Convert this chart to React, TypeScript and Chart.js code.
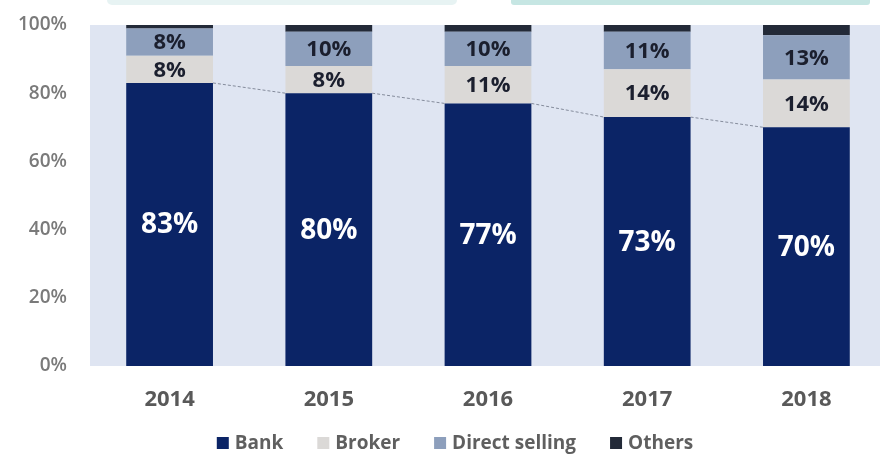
import React, { useEffect, useRef } from "react";
import { Chart, registerables } from "chart.js";

Chart.register(...registerables);

const years = ["2014", "2015", "2016", "2017", "2018"];
const bank = [83, 80, 77, 73, 70];
const broker = [8, 8, 11, 14, 14];
const directSelling = [8, 10, 10, 11, 13];
const others = [1, 2, 2, 2, 3];
const seriesNames = ["Bank", "Broker", "Direct selling", "Others"];
const seriesColors = ["#0b2466", "#dbd9d7", "#8d9fbc", "#232a38"];
const FONT = "'Open Sans', 'DejaVu Sans', sans-serif";

const decorPlugin = {
  id: "decor",
  beforeDraw(chart: any) {
    const { ctx, chartArea } = chart;
    ctx.save();
    ctx.fillStyle = "#ffffff";
    ctx.fillRect(0, 0, chart.width, chart.height);
    // cropped slide shapes at the very top
    ctx.fillStyle = "#e7f3f3";
    ctx.beginPath();
    (ctx as any).roundRect(107, -10, 350, 15, 5);
    ctx.fill();
    ctx.fillStyle = "#c6e6e3";
    ctx.beginPath();
    (ctx as any).roundRect(511, -10, 359, 15, 3);
    ctx.fill();
    // plot background
    ctx.fillStyle = "#dfe5f2";
    ctx.fillRect(chartArea.left, chartArea.top, chartArea.right - chartArea.left, chartArea.bottom - chartArea.top);
    ctx.restore();
  },
  beforeDatasetsDraw(chart: any) {
    const { ctx } = chart;
    const meta = chart.getDatasetMeta(0);
    ctx.save();
    ctx.strokeStyle = "#858c9c";
    ctx.lineWidth = 1;
    ctx.setLineDash([3, 2]);
    for (let i = 0; i < meta.data.length - 1; i++) {
      const a = meta.data[i];
      const b = meta.data[i + 1];
      ctx.beginPath();
      ctx.moveTo(a.x + a.width / 2, a.y);
      ctx.lineTo(b.x - b.width / 2, b.y);
      ctx.stroke();
    }
    ctx.restore();
  },
  afterDatasetsDraw(chart: any) {
    const { ctx } = chart;
    ctx.save();
    ctx.textAlign = "center";
    ctx.textBaseline = "middle";
    for (let d = 0; d < 3; d++) {
      const meta = chart.getDatasetMeta(d);
      const values = chart.data.datasets[d].data;
      meta.data.forEach((el: any, i: number) => {
        const cy = (el.y + el.base) / 2;
        if (d === 0) {
          ctx.fillStyle = "#ffffff";
          ctx.font = `bold 28px ${FONT}`;
        } else {
          ctx.fillStyle = "#1b1f2e";
          ctx.font = `bold 22px ${FONT}`;
        }
        ctx.fillText(values[i] + "%", el.x, cy + 1);
      });
    }
    ctx.restore();
  },
  afterDraw(chart: any) {
    const { ctx } = chart;
    ctx.save();
    ctx.font = `bold 19px ${FONT}`;
    ctx.textBaseline = "middle";
    const box = 12;
    const gapText = 6;
    const gapItem = 34;
    const widths = seriesNames.map((n) => box + gapText + ctx.measureText(n).width);
    const total = widths.reduce((s, w) => s + w, 0) + gapItem * (seriesNames.length - 1);
    let x = 455 - total / 2;
    const y = 443;
    seriesNames.forEach((n, i) => {
      ctx.fillStyle = seriesColors[i];
      ctx.fillRect(x, y - box / 2, box, box);
      ctx.fillStyle = "#5f5f5f";
      ctx.fillText(n, x + box + gapText, y + 1);
      x += widths[i] + gapItem;
    });
    ctx.restore();
  },
};

export default function App() {
  const ref = useRef<HTMLCanvasElement>(null);
  useEffect(() => {
    const seriesData = [bank, broker, directSelling, others];
    const chart = new Chart(ref.current!, {
      type: "bar",
      data: {
        labels: years,
        datasets: seriesNames.map((name, i) => ({
          label: name,
          data: seriesData[i],
          backgroundColor: seriesColors[i],
          borderWidth: 0,
          barPercentage: 0.545,
          categoryPercentage: 1,
        })),
      },
      options: {
        responsive: false,
        animation: false,
        layout: { padding: { top: 25, right: 0, bottom: 40, left: 0 } },
        plugins: { legend: { display: false }, tooltip: { enabled: false } },
        scales: {
          x: {
            stacked: true,
            grid: { display: false, drawTicks: false },
            border: { display: false },
            ticks: { color: "#595959", font: { family: FONT, size: 22, weight: "bold" }, padding: 21 },
            afterFit: (s: any) => { s.height = 50; s.paddingLeft = 0; s.paddingRight = 0; },
          },
          y: {
            stacked: true,
            min: 0,
            max: 100,
            grid: { display: false, drawTicks: false },
            border: { display: false },
            ticks: {
              stepSize: 20,
              color: "#7a7a7a",
              font: { family: FONT, size: 19, weight: "600" },
              padding: 23,
              callback: (v: any) => v + "%",
            },
            afterFit: (s: any) => { s.width = 90; s.paddingTop = 0; s.paddingBottom = 0; },
          },
        },
      },
      plugins: [decorPlugin],
    });
    return () => chart.destroy();
  }, []);
  return (
    <div style={{ position: "fixed", left: 0, top: 0, width: 880, height: 456, overflow: "hidden" }}>
      <canvas ref={ref} width={886} height={456} style={{ display: "block" }} />
    </div>
  );
}
